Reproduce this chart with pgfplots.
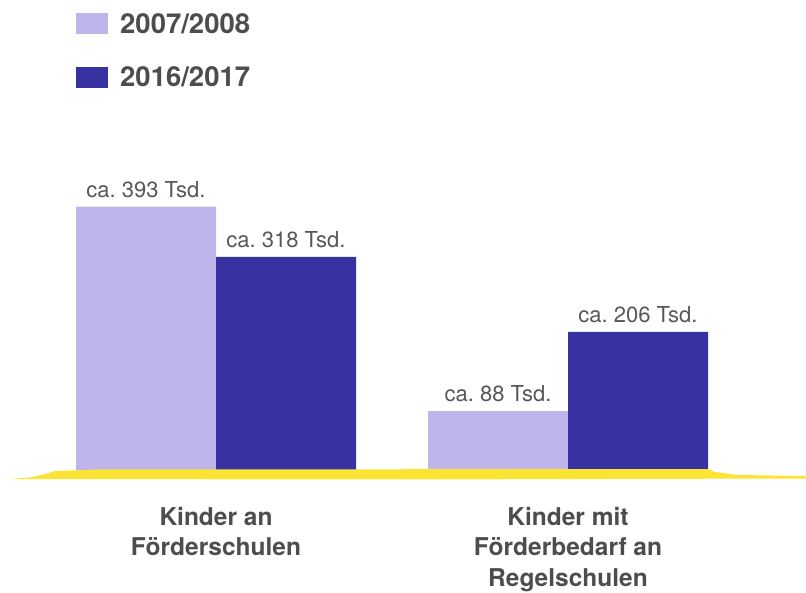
\documentclass[border=0pt]{standalone}
\usepackage{pgfplots}
\pgfplotsset{compat=1.18}
\usepackage{fontspec}
\setmainfont{TeX Gyre Heros}
\definecolor{lightbar}{HTML}{BFB5EA}
\definecolor{darkbar}{HTML}{3831A2}
\definecolor{txt}{HTML}{4D4D4D}
\definecolor{valtxt}{HTML}{575757}
\definecolor{swoosh}{HTML}{FCE435}
\begin{document}
\begin{tikzpicture}
\useasboundingbox (0bp,-123bp) rectangle (806bp,470bp);
\begin{axis}[
  at={(0,0)}, anchor=south west,
  scale only axis, width=806bp, height=470bp,
  xmin=-0.61364, xmax=1.67614, ymin=0, ymax=701.5,
  clip=false,
  /pgf/number format/assume math mode=true,
  ybar=0pt, bar width=140bp,
  every axis plot post/.append style={legend image code/.code={\fill[##1,draw=none] (0bp,-10.5bp) rectangle (32bp,10.5bp);}},
  axis line style={draw=none},
  ytick=\empty,
  xtick={0,1},
  xticklabels={{Kinder an\\Förderschulen},{Kinder mit\\Förderbedarf an\\Regelschulen}},
  xtick style={draw=none},
  major tick length=0pt,
  xticklabel style={align=center, anchor=north, inner sep=0pt, yshift=-37bp, font=\fontsize{24.5bp}{30.5bp}\selectfont\bfseries, text=txt},
  nodes near coords={ca.~\pgfmathprintnumber{\pgfplotspointmeta}~Tsd.},
  nodes near coords style={font=\fontsize{22bp}{26bp}\selectfont, text=valtxt, inner sep=0pt, anchor=south, yshift=9bp},
  legend cell align=left,
  legend style={draw=none, fill=none, at={(0.09429,0.97234)}, anchor=north west, inner sep=0pt, row sep=32bp, column sep=12bp, font=\fontsize{27.5bp}{30bp}\selectfont\bfseries, text=txt, nodes={inner sep=0pt}},
]
\addplot[fill=lightbar, draw=none] coordinates {(0,393) (1,88)};
\addplot[fill=darkbar, draw=none] coordinates {(0,318) (1,206)};
\legend{2007/2008, 2016/2017}
\end{axis}
\fill[swoosh] (10bp,-9bp) -- (30bp,-7.5bp) -- (45bp,-4bp) -- (55bp,-1bp) -- (100bp,0.5bp) -- (708bp,1bp) -- (715bp,-2bp) -- (738bp,-5bp) -- (806bp,-6bp) -- (806bp,-8.5bp) -- (400bp,-9.5bp) -- cycle;
\end{tikzpicture}
\end{document}
